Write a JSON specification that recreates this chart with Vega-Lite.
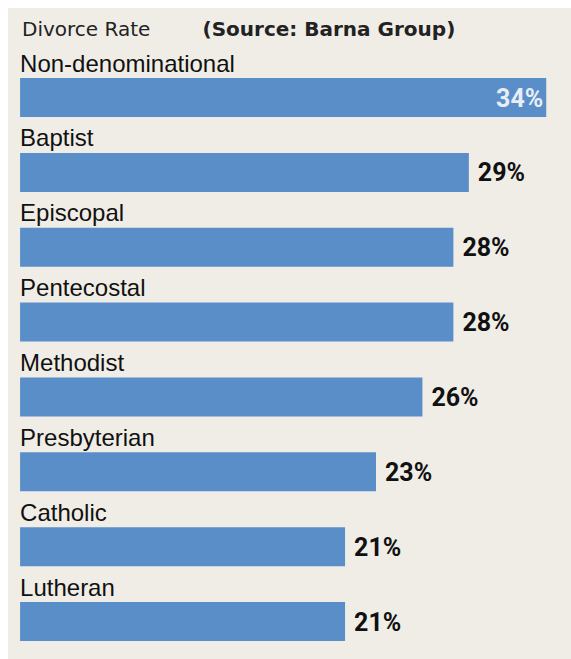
{
  "$schema": "https://vega.github.io/schema/vega-lite/v6.json",
  "autosize": "none",
  "width": 563,
  "height": 651,
  "padding": {"left": 8, "top": 8, "right": 0, "bottom": 0},
  "background": "#ffffff",
  "config": {"view": {"fill": "#f0ede7", "stroke": null}},
  "title": {
    "text": "Divorce Rate",
    "anchor": "start",
    "frame": "group",
    "orient": "top",
    "offset": -29,
    "baseline": "alphabetic",
    "dx": 14,
    "dy": 19,
    "font": "DejaVu Sans",
    "fontSize": 20,
    "fontWeight": "normal",
    "color": "#222222"
  },
  "data": {
    "values": [
      {"denomination": "Non-denominational", "rate": 34, "label": "34%"},
      {"denomination": "Baptist", "rate": 29, "label": "29%"},
      {"denomination": "Episcopal", "rate": 28, "label": "28%"},
      {"denomination": "Pentecostal", "rate": 28, "label": "28%"},
      {"denomination": "Methodist", "rate": 26, "label": "26%"},
      {"denomination": "Presbyterian", "rate": 23, "label": "23%"},
      {"denomination": "Catholic", "rate": 21, "label": "21%"},
      {"denomination": "Lutheran", "rate": 21, "label": "21%"}
    ]
  },
  "encoding": {
    "y": {
      "field": "denomination",
      "type": "nominal",
      "sort": null,
      "scale": {"paddingInner": 0, "paddingOuter": 0.348, "align": 1},
      "axis": null
    }
  },
  "layer": [
    {
      "mark": {"type": "bar", "height": 39, "color": "#5a8ec9"},
      "encoding": {
        "x": {
          "field": "rate",
          "type": "quantitative",
          "scale": {"domain": [-0.78, 35.6], "nice": false, "zero": false},
          "axis": {
            "orient": "top",
            "labels": false,
            "ticks": false,
            "domain": false,
            "grid": false,
            "title": "(Source: Barna Group)",
            "titleFont": "DejaVu Sans",
            "titleFontSize": 20,
            "titleFontWeight": "bold",
            "titleColor": "#222222",
            "titleAlign": "left",
            "titleBaseline": "alphabetic",
            "titleAnchor": "start",
            "titleX": 194,
            "titleY": 27,
            "titleAngle": 0
          }
        },
        "x2": {"datum": 0}
      }
    },
    {
      "mark": {
        "type": "text",
        "align": "left",
        "baseline": "alphabetic",
        "dy": -26,
        "font": "Liberation Sans",
        "fontSize": 24,
        "color": "#111111"
      },
      "encoding": {
        "x": {"datum": 0},
        "text": {"field": "denomination"}
      }
    },
    {
      "transform": [{"filter": "datum.rate < 30"}],
      "mark": {
        "type": "text",
        "align": "left",
        "baseline": "middle",
        "dx": 9,
        "dy": 1,
        "font": "Roboto",
        "fontSize": 25,
        "fontWeight": "bold",
        "color": "#111111"
      },
      "encoding": {
        "x": {"field": "rate", "type": "quantitative"},
        "text": {"field": "label"}
      }
    },
    {
      "transform": [{"filter": "datum.rate >= 30"}],
      "mark": {
        "type": "text",
        "align": "right",
        "baseline": "middle",
        "dx": -3,
        "dy": 1,
        "font": "Roboto",
        "fontSize": 25,
        "fontWeight": "bold",
        "color": "#e8eef6"
      },
      "encoding": {
        "x": {"field": "rate", "type": "quantitative"},
        "text": {"field": "label"}
      }
    }
  ]
}
